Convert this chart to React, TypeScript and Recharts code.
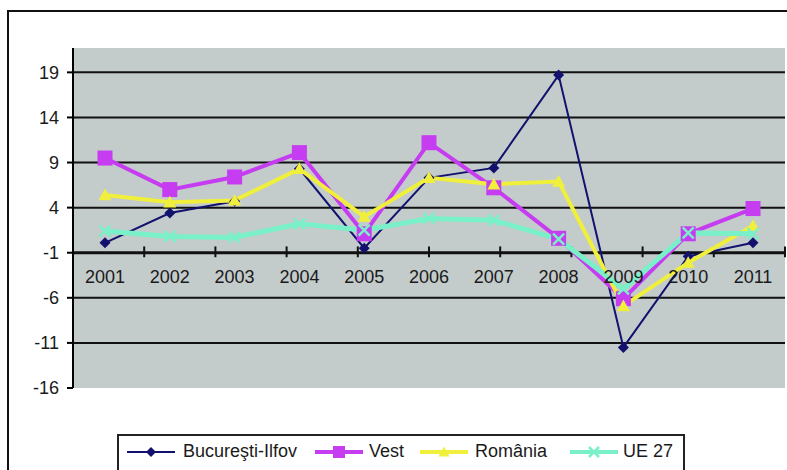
import { LineChart, Line, XAxis, YAxis, CartesianGrid, ReferenceLine, ReferenceDot } from 'recharts'

const years = ['2001', '2002', '2003', '2004', '2005', '2006', '2007', '2008', '2009', '2010', '2011']
const bucuresti = [0.1, 3.4, 4.7, 8.3, -0.5, 7.3, 8.4, 18.7, -11.5, -1.4, 0.1]
const vest = [9.5, 6.0, 7.4, 10.1, 1.1, 11.2, 6.2, 0.6, -6.1, 1.1, 3.9]
const romania = [5.4, 4.6, 4.8, 8.3, 3.0, 7.3, 6.6, 6.9, -6.9, -2.1, 2.0]
const ue27 = [1.4, 0.8, 0.7, 2.2, 1.5, 2.8, 2.6, 0.5, -5.0, 1.2, 1.1]

const yTicks = [-16, -11, -6, -1, 4, 9, 14, 19]
const gridValues = [-11, -6, 4, 9, 14, 19]
const catEdges = [1, 2, 3, 4, 5, 6, 7, 8, 9, 10]

const data = years.map((year, i) => ({
  year,
  bucuresti: bucuresti[i],
  vest: vest[i],
  romania: romania[i],
  ue27: ue27[i],
}))

const FONT = '"Liberation Sans", Arial, sans-serif'
const NAVY = '#12126e'
const MAGENTA = '#c63cf0'
const YELLOW = '#f0f03c'
const CYAN = '#7af0c8'
const TEXT = '#1a1a1a'

type Shape = 'diamond' | 'square' | 'triangle' | 'cross'

function drawMarker(shape: Shape, color: string, size: number, cx: number, cy: number, key?: any) {
  const s = size / 2
  if (shape === 'diamond')
    return <polygon key={key} points={`${cx},${cy - s} ${cx + s},${cy} ${cx},${cy + s} ${cx - s},${cy}`} fill={color} />
  if (shape === 'square')
    return <rect key={key} x={cx - s} y={cy - s} width={size} height={size} fill={color} />
  if (shape === 'triangle')
    return <polygon key={key} points={`${cx},${cy - s} ${cx + s},${cy + s * 0.8} ${cx - s},${cy + s * 0.8}`} fill={color} />
  return (
    <g key={key} stroke={color} strokeWidth={2.5}>
      <line x1={cx - s} y1={cy - s} x2={cx + s} y2={cy + s} />
      <line x1={cx - s} y1={cy + s} x2={cx + s} y2={cy - s} />
    </g>
  )
}

const marker = (shape: Shape, color: string, size: number) => (p: any) => {
  if (p.cx == null || p.cy == null) return <g key={p.index} />
  return drawMarker(shape, color, size, p.cx, p.cy, p.index)
}

const legendItems = [
  { label: 'Bucureşti-Ilfov', color: NAVY, shape: 'diamond' as Shape, width: 2, size: 10, left: 8, textLeft: 64 },
  { label: 'Vest', color: MAGENTA, shape: 'square' as Shape, width: 4, size: 12, left: 196, textLeft: 250 },
  { label: 'România', color: YELLOW, shape: 'triangle' as Shape, width: 4, size: 11, left: 301, textLeft: 356 },
  { label: 'UE 27', color: CYAN, shape: 'cross' as Shape, width: 4, size: 10, left: 451, textLeft: 504 },
]

export default function App() {
  return (
    <div style={{ position: 'absolute', left: 0, top: 0, width: 787, height: 470, background: '#fff', overflow: 'hidden', fontFamily: FONT }}>
      <div style={{ position: 'absolute', left: 7, top: 10, width: 800, height: 480, borderLeft: '2px solid #111', borderTop: '2px solid #111' }} />
      <div style={{ position: 'absolute', left: 0, top: 0 }}>
        <LineChart width={787} height={470} data={data} margin={{ top: 48, right: 2, bottom: 82, left: 0 }}>
          <CartesianGrid horizontal={false} vertical={false} fill="#c3cbcb" stroke="#9aa3a3" />
          <XAxis dataKey="year" hide padding={{ left: 32, right: 32 }} />
          <XAxis xAxisId="num" type="number" domain={[0, 11]} hide />
          <YAxis
            width={73}
            domain={[-16, 21.7]}
            ticks={yTicks}
            interval={0}
            allowDataOverflow
            tick={{ fill: TEXT, fontSize: 18, fontFamily: FONT }}
            tickSize={6}
            tickMargin={8}
            axisLine={{ stroke: '#000', strokeWidth: 2 }}
            tickLine={{ stroke: '#000', strokeWidth: 2 }}
          />
          {gridValues.map((v) => (
            <ReferenceLine key={v} y={v} stroke="#111" strokeWidth={2} />
          ))}
          <ReferenceLine y={-1} stroke="#111" strokeWidth={3} />
          {catEdges.map((e) => (
            <ReferenceLine key={'t' + e} xAxisId="num" segment={[{ x: e, y: -0.3 }, { x: e, y: -1.5 }]} stroke="#111" strokeWidth={2} />
          ))}
          {years.map((y) => (
            <ReferenceDot
              key={'l' + y}
              x={y}
              y={-1}
              r={0}
              fill="none"
              stroke="none"
              label={{ value: y, position: 'bottom', offset: 17, fill: TEXT, fontSize: 18, fontFamily: FONT }}
            />
          ))}
          <Line dataKey="bucuresti" stroke={NAVY} strokeWidth={2} dot={marker('diamond', NAVY, 11)} activeDot={false} isAnimationActive={false} />
          <Line dataKey="vest" stroke={MAGENTA} strokeWidth={4} dot={marker('square', MAGENTA, 15)} activeDot={false} isAnimationActive={false} />
          <Line dataKey="romania" stroke={YELLOW} strokeWidth={4} dot={marker('triangle', YELLOW, 13)} activeDot={false} isAnimationActive={false} />
          <Line dataKey="ue27" stroke={CYAN} strokeWidth={5} dot={marker('cross', CYAN, 11)} activeDot={false} isAnimationActive={false} />
        </LineChart>
      </div>
      <div style={{ position: 'absolute', left: 117, top: 434, width: 564, height: 50, border: '2px solid #222', background: '#fff' }}>
        {legendItems.map((it) => (
          <div key={it.label}>
            <svg style={{ position: 'absolute', left: it.left, top: 8 }} width={48} height={16}>
              <line x1={0} y1={8} x2={48} y2={8} stroke={it.color} strokeWidth={it.width} />
              {drawMarker(it.shape, it.color, it.size, 24, 8)}
            </svg>
            <span style={{ position: 'absolute', left: it.textLeft, top: 5, fontSize: 18, color: TEXT, whiteSpace: 'nowrap', lineHeight: '20px' }}>
              {it.label}
            </span>
          </div>
        ))}
      </div>
    </div>
  )
}
